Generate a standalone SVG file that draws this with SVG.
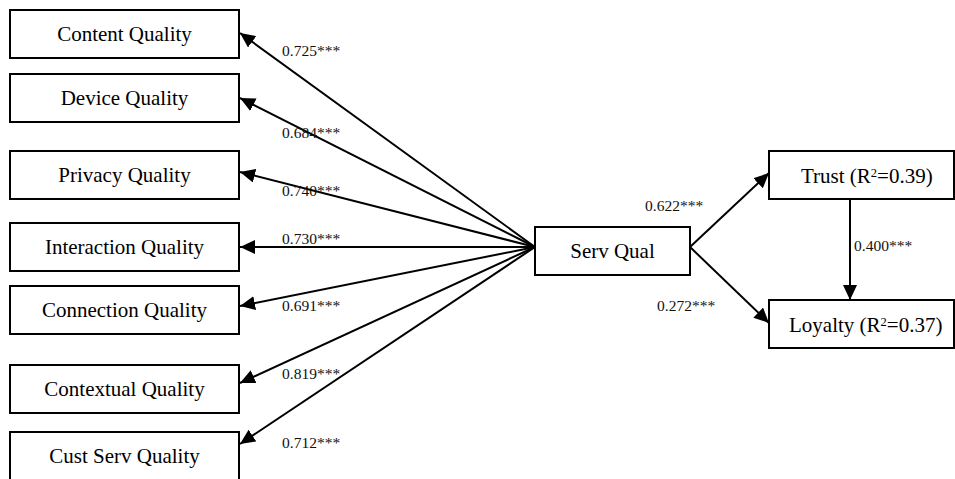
<svg xmlns="http://www.w3.org/2000/svg" width="955" height="479" viewBox="0 0 955 479">
<style>
.box{fill:#fff;stroke:#000;stroke-width:2}
.t{font-family:"Liberation Serif","Times New Roman",serif;font-size:21px;fill:#000}
.c{text-anchor:middle}
.lbl{font-family:"Liberation Serif","Times New Roman",serif;font-size:15.5px;fill:#111}
.ln{stroke:#000;stroke-width:2;fill:none;marker-end:url(#ah)}
</style>
<defs>
<marker id="ah" markerUnits="userSpaceOnUse" markerWidth="16" markerHeight="15" refX="15" refY="7" orient="auto">
<path d="M0,0 L15,7 L0,14 z" fill="#000"/>
</marker>
</defs>
<rect width="955" height="479" fill="#fff"/>
<g id="connectors">
<line class="ln" x1="535" y1="247" x2="240" y2="33"/>
<line class="ln" x1="535" y1="247" x2="240" y2="98"/>
<line class="ln" x1="535" y1="247" x2="240" y2="172"/>
<line class="ln" x1="535" y1="247" x2="240" y2="247"/>
<line class="ln" x1="535" y1="247" x2="240" y2="306"/>
<line class="ln" x1="535" y1="247" x2="240" y2="383"/>
<line class="ln" x1="535" y1="247" x2="240" y2="444"/>
<line class="ln" x1="690" y1="247" x2="769" y2="173"/>
<line class="ln" x1="690" y1="247" x2="769" y2="323"/>
<line class="ln" x1="850" y1="199" x2="850" y2="300"/>
</g>
<g id="labels">
<text class="lbl" x="282" y="56">0.725***</text>
<text class="lbl" x="282" y="138">0.684***</text>
<text class="lbl" x="282" y="196">0.740***</text>
<text class="lbl" x="282" y="244">0.730***</text>
<text class="lbl" x="282" y="311">0.691***</text>
<text class="lbl" x="282" y="379">0.819***</text>
<text class="lbl" x="282" y="448">0.712***</text>
<text class="lbl" x="645" y="210.5">0.622***</text>
<text class="lbl" x="657" y="310.5">0.272***</text>
<text class="lbl" x="854" y="251">0.400***</text>
</g>
<g id="content-quality"><rect class="box" x="10" y="10" width="229" height="48"/><text class="t c" x="124.5" y="41">Content Quality</text></g>
<g id="device-quality"><rect class="box" x="10" y="74" width="229" height="48"/><text class="t c" x="124.5" y="105">Device Quality</text></g>
<g id="privacy-quality"><rect class="box" x="10" y="151" width="229" height="48"/><text class="t c" x="124.5" y="182">Privacy Quality</text></g>
<g id="interaction-quality"><rect class="box" x="10" y="223" width="229" height="48"/><text class="t c" x="124.5" y="254">Interaction Quality</text></g>
<g id="connection-quality"><rect class="box" x="10" y="286" width="229" height="48"/><text class="t c" x="124.5" y="317">Connection Quality</text></g>
<g id="contextual-quality"><rect class="box" x="10" y="365" width="229" height="48"/><text class="t c" x="124.5" y="396">Contextual Quality</text></g>
<g id="cust-serv-quality"><rect class="box" x="10" y="432" width="229" height="50"/><text class="t c" x="124.5" y="463">Cust Serv Quality</text></g>
<g id="serv-qual"><rect class="box" x="535" y="227" width="155" height="48"/><text class="t c" x="612.5" y="258">Serv Qual</text></g>
<g id="trust"><rect class="box" x="769" y="151" width="185" height="48"/><text class="t" x="801" y="182.5">Trust (R<tspan font-size="12.5" dy="-6">2</tspan><tspan dy="6">=0.39)</tspan></text></g>
<g id="loyalty"><rect class="box" x="769" y="300" width="185" height="48"/><text class="t" x="789" y="332">Loyalty (R<tspan font-size="12.5" dy="-6">2</tspan><tspan dy="6">=0.37)</tspan></text></g>
</svg>
